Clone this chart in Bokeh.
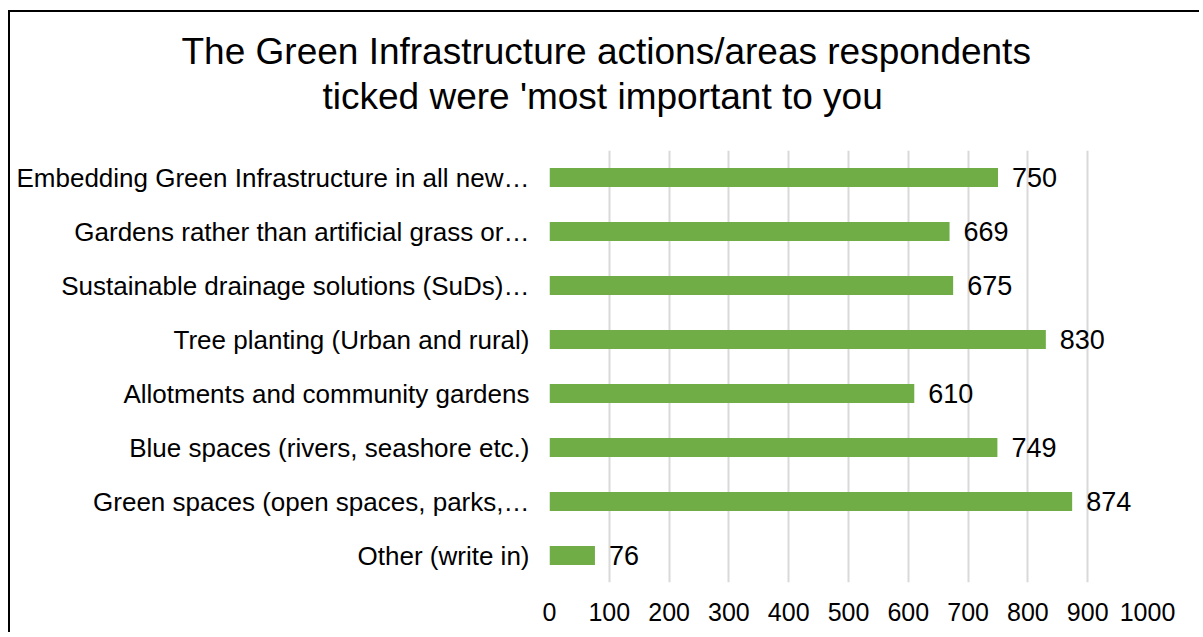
from bokeh.plotting import figure
from bokeh.models import ColumnDataSource, LabelSet, Title, FactorRange, Range1d, SingleIntervalTicker
from bokeh.core.properties import value
from bokeh.embed import file_html
from bokeh.resources import INLINE

# ---- data ----
categories = [
    "Embedding Green Infrastructure in all new…",
    "Gardens rather than artificial grass or…",
    "Sustainable drainage solutions (SuDs)…",
    "Tree planting (Urban and rural)",
    "Allotments and community gardens",
    "Blue spaces (rivers, seashore etc.)",
    "Green spaces (open spaces, parks,…",
    "Other (write in)",
]
values = [750, 669, 675, 830, 610, 749, 874, 76]
title_lines = [
    "The Green Infrastructure actions/areas respondents",
    "ticked were 'most important to you",
]

FONT = "Liberation Sans"
GREEN = "#70AD47"

cats_bottom_up = list(reversed(categories))

p = figure(
    width=1191, height=622,
    y_range=FactorRange(factors=cats_bottom_up, range_padding=0, factor_padding=0),
    x_range=Range1d(0, 1000),
    output_backend="svg", toolbar_location=None,
    min_border_left=539, min_border_right=54,
    min_border_top=138, min_border_bottom=52,
)
p.styles = {"margin-top": "10px", "margin-left": "8px",
            "border-top": "2px solid black", "border-left": "2px solid black"}
p.outline_line_color = None
p.background_fill_color = "white"
p.border_fill_color = "white"

src = ColumnDataSource(dict(cat=categories, val=values))

p.hbar(y="cat", right="val", left=0, height=0.35, source=src,
       fill_color=GREEN, line_color=None)

# value labels
p.add_layout(LabelSet(x="val", y="cat", text="val", source=src,
                      x_offset=14, text_align="left", text_baseline="middle",
                      text_font=value(FONT), text_font_size="27px", text_color="#000000"))

# title (two lines, added from the frame outward)
p.add_layout(Title(text=title_lines[1], align="left", offset=-227, standoff=68,
                   text_font=FONT, text_font_size="37px", text_font_style="normal",
                   text_color="#000000"), "above")
p.add_layout(Title(text=title_lines[0], align="left", offset=-368, standoff=-64,
                   text_font=FONT, text_font_size="37px", text_font_style="normal",
                   text_color="#000000"), "above")

# category axis
p.yaxis.axis_line_color = None
p.yaxis.major_tick_line_color = None
p.yaxis.minor_tick_line_color = None
p.yaxis.major_tick_out = 0
p.yaxis.major_tick_in = 0
p.yaxis.major_label_standoff = 20
p.yaxis.major_label_text_font = FONT
p.yaxis.major_label_text_font_size = "26px"
p.yaxis.major_label_text_color = "#000000"
p.ygrid.grid_line_color = None

# value axis
p.xaxis.ticker = SingleIntervalTicker(interval=100, num_minor_ticks=0)
p.xgrid.ticker = SingleIntervalTicker(interval=100, num_minor_ticks=0)
p.xgrid.grid_line_color = "#d9d9d9"
p.xgrid.grid_line_width = 2
p.xaxis.axis_line_color = None
p.xaxis.major_tick_line_color = None
p.xaxis.minor_tick_line_color = None
p.xaxis.major_tick_out = 0
p.xaxis.major_tick_in = 0
p.xaxis.major_label_standoff = 20
p.xaxis.major_label_text_font = FONT
p.xaxis.major_label_text_font_size = "25px"
p.xaxis.major_label_text_color = "#000000"

open("out.html", "w").write(file_html(p, INLINE))
